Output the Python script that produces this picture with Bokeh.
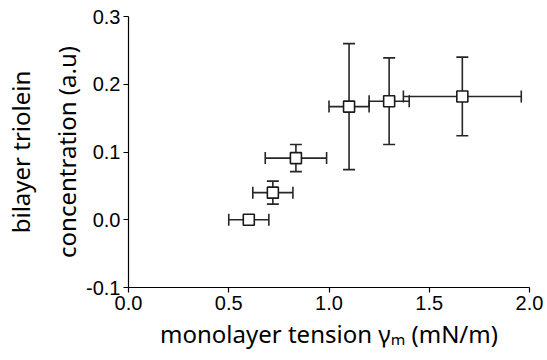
from bokeh.plotting import figure
from bokeh.models import ColumnDataSource, Whisker, TeeHead, FixedTicker, NumeralTickFormatter, Range1d
from bokeh.embed import file_html
from bokeh.resources import INLINE

# data
tension = [0.60, 0.72, 0.835, 1.10, 1.30, 1.665]
tension_err = [0.10, 0.10, 0.153, 0.10, 0.10, 0.294]
triolein = [0.000, 0.040, 0.091, 0.167, 0.175, 0.182]
triolein_err = [0.0, 0.017, 0.020, 0.093, 0.064, 0.058]
x_ticks = [0.0, 0.5, 1.0, 1.5, 2.0]
y_ticks = [-0.1, 0.0, 0.1, 0.2, 0.3]

p = figure(width=547, height=360, min_border_left=123, min_border_right=18,
           min_border_top=16, min_border_bottom=73, output_backend="svg", toolbar_location=None,
           x_range=Range1d(0, 2.0), y_range=Range1d(-0.1, 0.3))
p.outline_line_color = None
p.grid.visible = False
p.background_fill_color = "white"

src = ColumnDataSource(dict(
    x=tension, y=triolein,
    xl=[a - b for a, b in zip(tension, tension_err)],
    xu=[a + b for a, b in zip(tension, tension_err)],
))
idx = [i for i, e in enumerate(triolein_err) if e > 0]
ysrc = ColumnDataSource(dict(
    x=[tension[i] for i in idx],
    yl=[triolein[i] - triolein_err[i] for i in idx],
    yu=[triolein[i] + triolein_err[i] for i in idx],
))

col = "#262626"
wx = Whisker(source=src, base="y", lower="xl", upper="xu", dimension="width",
             line_color=col, line_width=1.6, level="underlay",
             lower_head=TeeHead(size=12, line_color=col, line_width=1.6),
             upper_head=TeeHead(size=12, line_color=col, line_width=1.6))
wy = Whisker(source=ysrc, base="x", lower="yl", upper="yu", dimension="height",
             line_color=col, line_width=1.6, level="underlay",
             lower_head=TeeHead(size=12, line_color=col, line_width=1.6),
             upper_head=TeeHead(size=12, line_color=col, line_width=1.6))
p.add_layout(wx)
p.add_layout(wy)

p.scatter("x", "y", source=src, marker="square", size=11, fill_color="white",
          line_color="#1a1a1a", line_width=1.6)

for ax in (p.xaxis[0], p.yaxis[0]):
    ax.axis_line_color = "black"
    ax.axis_line_width = 1.2
    ax.major_tick_line_color = "black"
    ax.major_tick_line_width = 1.2
    ax.major_tick_out = 5
    ax.major_tick_in = 0
    ax.minor_tick_line_color = None
    ax.major_label_text_font = "Liberation Sans"
    ax.major_label_text_font_size = "20px"
    ax.major_label_text_color = "black"
    ax.major_label_standoff = 3
    ax.axis_label_text_font = "Noto Sans"
    ax.axis_label_text_font_style = "normal"
    ax.axis_label_text_font_size = "24px"
    ax.axis_label_text_color = "black"
    ax.formatter = NumeralTickFormatter(format="0.0")

p.xaxis[0].ticker = FixedTicker(ticks=x_ticks)
p.yaxis[0].ticker = FixedTicker(ticks=y_ticks)
p.xaxis[0].axis_label = "monolayer tension γₘ (mN/m)"
p.xaxis[0].axis_label_standoff = 4
p.yaxis[0].axis_label = "bilayer triolein\nconcentration (a.u)"
p.yaxis[0].axis_label_text_line_height = 1.4
p.yaxis[0].axis_label_standoff = 0

open("out.html", "w").write(file_html(p, INLINE))
